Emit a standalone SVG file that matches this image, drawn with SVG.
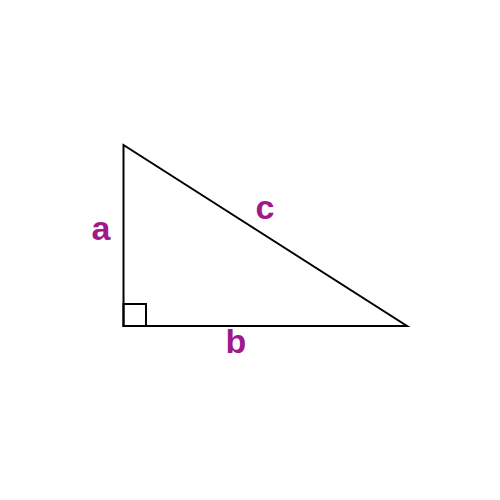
<svg xmlns="http://www.w3.org/2000/svg" width="500" height="500" viewBox="0 0 500 500">
<style>
.edge{fill:none;stroke:#000;stroke-width:2;stroke-linejoin:miter}
.lbl{font-family:"Liberation Sans","DejaVu Sans",sans-serif;font-size:34px;font-weight:bold;fill:#a0188c;text-anchor:middle}
</style>
<rect width="500" height="500" fill="#fff"/>
<g id="connectors">
<polygon class="edge" points="123.5,145 123.5,326 407,326"/>
<rect class="edge" x="123.5" y="304" width="22.5" height="22"/>
</g>
<g id="label-a"><text class="lbl" x="101" y="240">a</text></g>
<g id="label-b"><text class="lbl" x="236" y="353">b</text></g>
<g id="label-c"><text class="lbl" x="265" y="219">c</text></g>
</svg>
